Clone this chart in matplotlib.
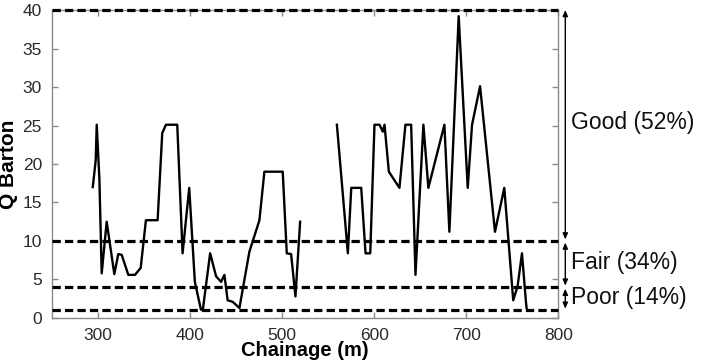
import numpy as np
import matplotlib
matplotlib.use("Agg")
import matplotlib.pyplot as plt
import matplotlib.transforms as mtransforms

plt.rcParams['font.family'] = ['Liberation Sans', 'DejaVu Sans']

# Segment 1 of the Q profile
chainage_a = [294.6, 297.8, 298.9, 301.8, 304.3, 309.7, 318.0, 322.3, 326.0, 333.2,
              340.4, 346.6, 352.3, 365.0, 370.0, 374.0, 386.3, 392.1, 399.3, 405.4,
              412.0, 414.0, 422.0, 428.5, 433.9, 437.5, 441.0, 446.5, 453.8, 464.6,
              475.5, 480.9, 500.8, 505.2, 509.9, 514.6, 519.7]
q_a = [17.0, 20.5, 25.1, 18.0, 5.8, 12.5, 5.7, 8.3, 8.2, 5.6,
       5.6, 6.5, 12.7, 12.7, 24.0, 25.1, 25.1, 8.4, 16.9, 4.7,
       1.1, 1.0, 8.4, 5.4, 4.7, 5.6, 2.3, 2.1, 1.3, 8.6,
       12.7, 19.0, 19.0, 8.4, 8.3, 2.8, 12.5]

# Segment 2 of the Q profile
chainage_b = [559.6, 571.5, 575.2, 586.0, 590.7, 595.8, 600.4, 605.9, 609.4, 611.3,
              616.0, 627.5, 634.0, 640.2, 644.9, 653.5, 658.9, 676.3, 681.7, 691.8,
              701.6, 706.3, 715.0, 731.2, 741.3, 751.0, 755.7, 760.5, 764.8, 765.5]
q_b = [25.1, 8.4, 16.9, 16.9, 8.4, 8.4, 25.1, 25.1, 24.2, 25.1,
       19.0, 16.9, 25.1, 25.1, 5.6, 25.1, 16.9, 25.1, 11.2, 39.2,
       16.9, 25.1, 30.1, 11.2, 16.9, 2.3, 4.1, 8.4, 2.1, 1.3]

class_bounds = [40, 10, 4, 1]
class_labels = ["Good (52%)", "Fair (34%)", "Poor (14%)"]
x_ticks = [300, 400, 500, 600, 700, 800]
y_ticks = [0, 5, 10, 15, 20, 25, 30, 35, 40]

fig = plt.figure(figsize=(7.05, 3.6), dpi=100)
ax = fig.add_axes([0.0733, 0.1167, 0.7187, 0.8555])

spine_col = '#8a8a8a'
for s in ax.spines.values():
    s.set_color(spine_col)
    s.set_linewidth(1.0)

ax.plot(chainage_a, q_a, color='black', lw=1.7, zorder=3)
ax.plot(chainage_b, q_b, color='black', lw=1.7, zorder=3)

for b in class_bounds:
    ax.axhline(b, color='black', lw=2.3, ls=(0, (2.6, 1.3)), zorder=4, clip_on=False)

ax.set_xlim(250, 800)
ax.set_ylim(0, 40)
ax.set_xticks(x_ticks)
ax.set_yticks(y_ticks)
ax.tick_params(direction='in', top=True, right=True, length=4, width=1,
               color=spine_col, labelsize=12.5, labelcolor='#2a2a2a')
ax.tick_params(axis='x', pad=7)
ax.tick_params(axis='y', pad=7)

ax.set_xlabel("Chainage (m)", fontsize=14.5, fontweight='bold', labelpad=-1)
ax.set_ylabel("Q Barton", fontsize=15, fontweight='bold', labelpad=3)

trans = mtransforms.blended_transform_factory(ax.transAxes, ax.transData)
xa = 1.0137
arrows = [(40, 10.2), (9.8, 4.2), (3.8, 1.2)]
for (y0, y1) in arrows:
    ax.annotate("", xy=(xa, y1), xytext=(xa, y0), xycoords=trans, textcoords=trans,
                arrowprops=dict(arrowstyle='<|-|>,head_length=0.35,head_width=0.15',
                                color='black', lw=1.0, shrinkA=0, shrinkB=0),
                annotation_clip=False)

label_y = [25.4, 7.2, 2.6]
for lbl, yy in zip(class_labels, label_y):
    ax.text(1.025, yy, lbl, transform=trans, fontsize=16.5, va='center', ha='left',
            color='#111111', clip_on=False)

fig.savefig("out.png", dpi=100)
